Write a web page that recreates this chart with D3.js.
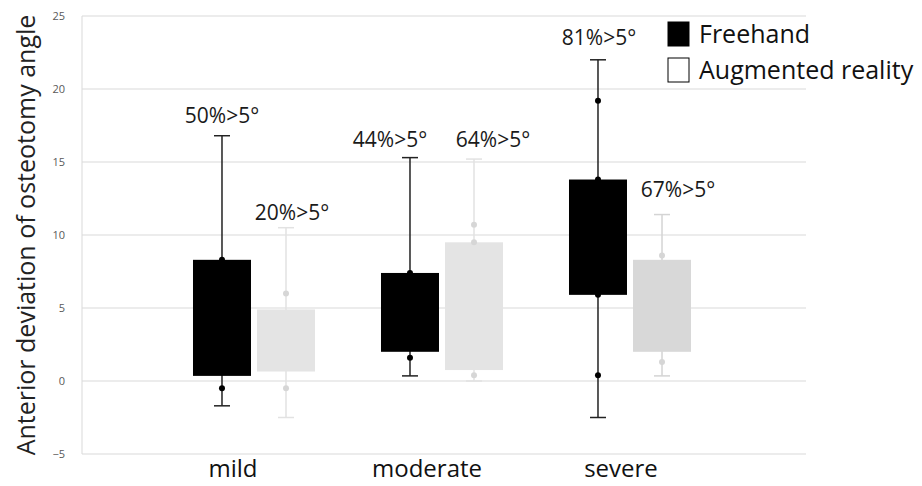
<!DOCTYPE html>
<html lang="en">
<head>
    <meta charset="UTF-8">
    <script src="https://d3js.org/d3.v7.min.js" charset="utf-8"></script>
    <title>Osteotomy box plot</title>
    <style>
        body { margin: 0; background: #fff; }
        svg { display: block; font-family: "Open Sans", sans-serif; }
    </style>
</head>
<body>
    <div class="fig"></div>

    <script>
        const svgWidth = 922;
        const svgHeight = 486;

        // categories and series
        const categories = ["mild", "moderate", "severe"];
        const series = ["Freehand", "Augmented reality"];
        const yTicks = [-5, 0, 5, 10, 15, 20, 25];

        // Freehand box values per category
        const freeLow = [-1.7, 0.35, -2.5];
        const freeQ1 = [0.35, 2.0, 5.9];
        const freeQ3 = [8.3, 7.4, 13.8];
        const freeHigh = [16.8, 15.3, 22.0];
        const freePoints = [[-0.5, 8.3], [1.6, 7.4], [0.4, 5.9, 13.8, 19.2]];
        const freeLabels = ["50%>5°", "44%>5°", "81%>5°"];

        // Augmented reality box values per category
        const arLow = [-2.5, 0.0, 0.35];
        const arQ1 = [0.65, 0.75, 2.0];
        const arQ3 = [4.9, 9.5, 8.3];
        const arHigh = [10.5, 15.2, 11.4];
        const arPoints = [[-0.5, 6.0], [0.4, 10.7, 9.5], [1.3, 8.6]];
        const arLabels = ["20%>5°", "64%>5°", "67%>5°"];

        // styling (kept apart from data)
        const boxFill = { "Freehand": ["#000", "#000", "#000"], "Augmented reality": ["#e4e4e4", "#e4e4e4", "#d8d8d8"] };
        const whiskerColor = { "Freehand": ["#222", "#222", "#222"], "Augmented reality": ["#e2e2e2", "#e2e2e2", "#d4d4d4"] };
        const labelShift = { "Freehand": [[0, 20], [-20, 18], [1, 22]], "Augmented reality": [[6, 15], [19, 19], [16, 25]] };

        const boxes = [];
        categories.forEach((c, i) => {
            boxes.push({ cat: c, ser: series[0], i, low: freeLow[i], q1: freeQ1[i], q3: freeQ3[i], high: freeHigh[i], pts: freePoints[i], label: freeLabels[i] });
            boxes.push({ cat: c, ser: series[1], i, low: arLow[i], q1: arQ1[i], q3: arQ3[i], high: arHigh[i], pts: arPoints[i], label: arLabels[i] });
        });

        const svg = d3.select(".fig").append("svg")
            .attr("width", svgWidth)
            .attr("height", svgHeight);

        const plotLeft = 82, plotRight = 806;

        const y = d3.scaleLinear().domain([-5, 25]).range([454, 16]);
        const x0 = d3.scaleBand().domain(categories).range([160, 724])
            .paddingInner(0.351).paddingOuter(0.1755);
        const x1 = d3.scaleBand().domain(series).range([0, x0.bandwidth()]).paddingInner(0.094);

        // gridlines
        svg.append("g").selectAll("line")
            .data(yTicks)
            .enter().append("line")
            .attr("x1", plotLeft).attr("x2", plotRight)
            .attr("y1", d => y(d)).attr("y2", d => y(d))
            .attr("stroke", "#d9d9d9").attr("stroke-width", 1);

        svg.append("line")
            .attr("x1", plotLeft).attr("x2", plotLeft)
            .attr("y1", y(25)).attr("y2", y(-5))
            .attr("stroke", "#d9d9d9");

        // y axis tick labels
        const yAxis = d3.axisLeft(y).tickValues(yTicks).tickSize(0).tickPadding(0);
        const yg = svg.append("g").attr("transform", "translate(65,0)").call(yAxis);
        yg.select(".domain").remove();
        yg.selectAll("text").attr("fill", "#595959").style("font-size", "11px")
            .style("font-family", "'Open Sans', sans-serif");

        // y title
        svg.append("text")
            .attr("transform", `translate(35,${(y(25) + y(-5)) / 2}) rotate(-90)`)
            .attr("text-anchor", "middle")
            .style("font-size", "25px")
            .attr("fill", "#222")
            .text("Anterior deviation of osteotomy angle");

        // category labels
        svg.append("g").selectAll("text")
            .data(categories)
            .enter().append("text")
            .attr("x", (d, i) => x0(d) + x0.bandwidth() / 2 - [21, 15, 9][i])
            .attr("y", 477)
            .attr("text-anchor", "middle")
            .style("font-size", "24px")
            .attr("fill", "#111")
            .text(d => d);

        const cx = d => x0(d.cat) + x1(d.ser) + x1.bandwidth() / 2;
        const capW = 16;

        const g = svg.append("g").selectAll("g")
            .data(boxes)
            .enter().append("g");

        // whisker line
        g.append("line")
            .attr("x1", cx).attr("x2", cx)
            .attr("y1", d => y(d.low)).attr("y2", d => y(d.high))
            .attr("stroke", d => whiskerColor[d.ser][d.i]).attr("stroke-width", 1.5);
        // caps
        ["low", "high"].forEach(k => {
            g.append("line")
                .attr("x1", d => cx(d) - capW / 2).attr("x2", d => cx(d) + capW / 2)
                .attr("y1", d => y(d[k])).attr("y2", d => y(d[k]))
                .attr("stroke", d => whiskerColor[d.ser][d.i]).attr("stroke-width", 1.5);
        });
        // box
        g.append("rect")
            .attr("x", d => x0(d.cat) + x1(d.ser))
            .attr("width", x1.bandwidth())
            .attr("y", d => y(d.q3))
            .attr("height", d => y(d.q1) - y(d.q3))
            .attr("fill", d => boxFill[d.ser][d.i]);
        // points
        g.each(function (d) {
            d3.select(this).selectAll("circle")
                .data(d.pts)
                .enter().append("circle")
                .attr("cx", cx(d))
                .attr("cy", v => y(v))
                .attr("r", 3)
                .attr("fill", d.ser === "Freehand" ? "#000" : "#d6d6d6");
        });
        // percentage labels
        g.append("text")
            .attr("x", d => cx(d) + labelShift[d.ser][d.i][0])
            .attr("y", d => y(d.high) - labelShift[d.ser][d.i][1])
            .attr("dy", "0.35em")
            .attr("text-anchor", "middle")
            .style("font-size", "21px")
            .attr("fill", "#1a1a1a")
            .text(d => d.label);

        // legend
        const legend = svg.append("g").attr("transform", "translate(668,22)");
        series.forEach((s, i) => {
            const row = legend.append("g").attr("transform", `translate(0,${i * 36})`);
            row.append("rect")
                .attr("width", 21).attr("height", 24)
                .attr("fill", i === 0 ? "#000" : "#fff")
                .attr("stroke", "#000").attr("stroke-width", 1);
            row.append("text")
                .attr("x", 31).attr("y", 12).attr("dy", "0.35em")
                .style("font-size", "25px")
                .attr("fill", "#111")
                .text(s);
        });
    </script>
</body>
</html>
